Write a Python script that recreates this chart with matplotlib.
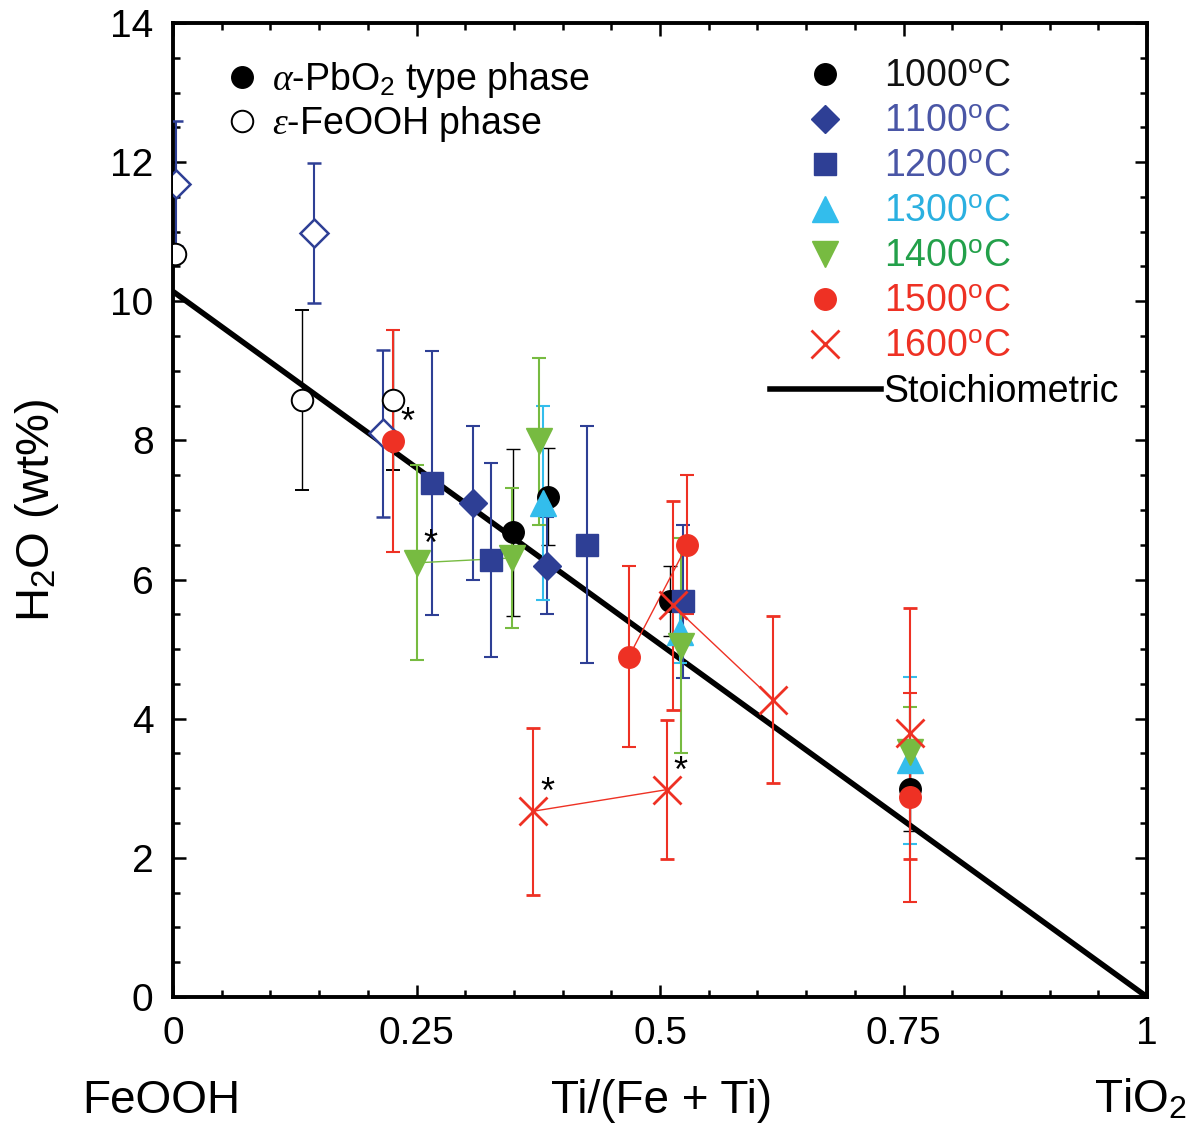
import matplotlib
matplotlib.use('Agg')
import matplotlib.pyplot as plt
from matplotlib.lines import Line2D
from matplotlib.ticker import MultipleLocator, FixedLocator

plt.rcParams['font.family'] = ['Liberation Sans', 'DejaVu Sans']
plt.rcParams['mathtext.fontset'] = 'custom'
plt.rcParams['mathtext.rm'] = 'Liberation Sans'
plt.rcParams['mathtext.it'] = 'Liberation Serif:italic'
plt.rcParams['mathtext.bf'] = 'Liberation Sans:bold'

# %% data: Ti/(Fe+Ti), H2O wt%, error
t1000_x = [0.349, 0.385, 0.51, 0.757]
t1000_y = [6.68, 7.19, 5.69, 2.99]
t1000_err = [1.2, 0.7, 0.5, 0.6]

t1100_x = [0.308, 0.384]
t1100_y = [7.1, 6.2]
t1100_err = [1.1, 0.7]

t1200_x = [0.266, 0.326, 0.425, 0.524]
t1200_y = [7.39, 6.28, 6.5, 5.69]
t1200_err = [1.9, 1.4, 1.7, 1.1]

t1300_x = [0.38, 0.521, 0.757]
t1300_y = [7.1, 5.25, 3.4]
t1300_err = [1.4, 0.45, 1.2]

t1400_x = [0.376, 0.25, 0.348, 0.522, 0.757]
t1400_y = [7.99, 6.24, 6.31, 5.05, 3.52]
t1400_err = [1.2, 1.4, 1.0, 1.55, 0.65]

t1500_x = [0.226, 0.468, 0.528, 0.757]
t1500_y = [7.99, 4.89, 6.5, 2.87]
t1500_err = [1.6, 1.3, 1.0, 1.5]

t1600_x = [0.37, 0.507, 0.513, 0.616, 0.757]
t1600_y = [2.67, 2.98, 5.63, 4.27, 3.79]
t1600_err = [1.2, 1.0, 1.5, 1.2, 1.8]

# epsilon-FeOOH phase (open symbols)
open_dia_x = [0.003, 0.145, 0.216]
open_dia_y = [11.69, 10.98, 8.1]
open_dia_err = [0.9, 1.0, 1.2]

open_circ_x = [0.002, 0.132, 0.226]
open_circ_y = [10.68, 8.58, 8.58]
open_circ_err = [0.0, 1.3, 1.0]

stoich_x = [0, 1]
stoich_y = [10.14, 0]

temp_labels = ['1000', '1100', '1200', '1300', '1400', '1500', '1600']

black = '#000000'
blue = '#2e3f95'
cyan = '#33bdec'
green = '#77bb41'
red = '#ee3124'

# %% figure
fig = plt.figure(figsize=(12.04, 11.36), dpi=100)
ax = fig.add_axes([0.1437, 0.1224, 0.809, 0.8574])

ax.plot(stoich_x, stoich_y, color='black', lw=4.0, zorder=2, solid_capstyle='butt')

eb = dict(ls='none', capsize=5, zorder=3)

ax.errorbar(open_circ_x, open_circ_y, yerr=open_circ_err, fmt='o', ms=15.5,
            mfc='white', mec=black, mew=1.4, ecolor=black, elinewidth=1.0,
            capthick=1.0, **eb)
ax.errorbar(open_dia_x, open_dia_y, yerr=open_dia_err, fmt='D', ms=14,
            mfc='white', mec=blue, mew=1.8, ecolor=blue, elinewidth=1.5,
            capthick=1.5, **eb)

ax.errorbar(t1000_x, t1000_y, yerr=t1000_err, fmt='o', ms=15.5, color=black,
            ecolor=black, elinewidth=1.0, capthick=1.0, **eb)
ax.errorbar(t1100_x, t1100_y, yerr=t1100_err, fmt='D', ms=14, color=blue,
            ecolor=blue, elinewidth=1.5, capthick=1.5, **eb)
ax.errorbar(t1200_x, t1200_y, yerr=t1200_err, fmt='s', ms=16, color=blue,
            ecolor=blue, elinewidth=1.5, capthick=1.5, **eb)
ax.errorbar(t1300_x, t1300_y, yerr=t1300_err, fmt='^', ms=19, color=cyan,
            ecolor=cyan, elinewidth=1.5, capthick=1.5, **eb)

ax.plot([t1400_x[1], t1400_x[2]], [t1400_y[1], t1400_y[2]], color=green, lw=1.0, zorder=3)
ax.errorbar(t1400_x, t1400_y, yerr=t1400_err, fmt='v', ms=19, color=green,
            ecolor=green, elinewidth=1.5, capthick=1.5, **eb)

ax.plot([t1500_x[1], t1500_x[2]], [t1500_y[1], t1500_y[2]], color=red, lw=1.0, zorder=3)
ax.errorbar(t1500_x, t1500_y, yerr=t1500_err, fmt='o', ms=15.5, color=red,
            ecolor=red, elinewidth=1.5, capthick=1.5, **eb)

ax.plot([t1600_x[0], t1600_x[1]], [t1600_y[0], t1600_y[1]], color=red, lw=1.0, zorder=3)
ax.plot([t1600_x[2], t1600_x[3]], [t1600_y[2], t1600_y[3]], color=red, lw=1.0, zorder=3)
ax.errorbar(t1600_x, t1600_y, yerr=t1600_err, fmt='x', ms=20, mew=2.0, color=red,
            ecolor=red, elinewidth=1.5, capthick=1.5, **eb)

# asterisks on the marked points
star_x = [t1500_x[0], t1400_x[1], t1600_x[0], t1600_x[1]]
star_y = [t1500_y[0], t1400_y[1], t1600_y[0], t1600_y[1]]
for sx, sy in zip(star_x, star_y):
    ax.annotate('*', (sx, sy), xytext=(5, 0), textcoords='offset points',
                fontsize=26, color='black', ha='left', va='bottom', zorder=6)

# %% axes styling
ax.set_xlim(0, 1)
ax.set_ylim(0, 14)
ax.xaxis.set_major_locator(FixedLocator([0, 0.25, 0.5, 0.75, 1]))
ax.xaxis.set_minor_locator(MultipleLocator(0.05))
ax.yaxis.set_major_locator(MultipleLocator(2))
ax.yaxis.set_minor_locator(MultipleLocator(0.5))
ax.set_xticklabels(['0', '0.25', '0.5', '0.75', '1'])
for s in ax.spines.values():
    s.set_linewidth(2.8)
ax.tick_params(which='both', direction='in', top=True, right=True, width=1.8)
ax.tick_params(which='major', length=9, pad=14)
ax.tick_params(which='minor', length=5)
for lab in ax.get_xticklabels() + ax.get_yticklabels():
    lab.set_family(['Liberation Sans Narrow', 'Liberation Sans'])
    lab.set_fontsize(28)

ax.set_ylabel('H$_2$O (wt%)', fontsize=34)
ax.yaxis.set_label_coords(-0.115, 0.5)
ax.set_xlabel('Ti/(Fe + Ti)', fontsize=33, va='baseline')
ax.xaxis.set_label_coords(0.502, -0.119)
ax.text(-0.012, -0.119, 'FeOOH', transform=ax.transAxes, fontsize=33,
        ha='center', va='baseline')
ax.text(0.993, -0.119, 'TiO$_2$', transform=ax.transAxes, fontsize=33,
        ha='center', va='baseline')

# %% legends
handles = [
    Line2D([], [], ls='none', marker='o', ms=15.5, color=black),
    Line2D([], [], ls='none', marker='D', ms=14, color=blue),
    Line2D([], [], ls='none', marker='s', ms=16, color=blue),
    Line2D([], [], ls='none', marker='^', ms=19, color=cyan),
    Line2D([], [], ls='none', marker='v', ms=19, color=green),
    Line2D([], [], ls='none', marker='o', ms=15.5, color=red),
    Line2D([], [], ls='none', marker='x', ms=20, mew=2.0, color=red),
    Line2D([], [], color='black', lw=4.0),
]
labels = [t + r'$^{\mathrm{o}}$C' for t in temp_labels] + ['Stoichiometric']
label_colors = ['#111111', '#4a56a6', '#4a56a6', '#2bb0e0', '#23a04a', red, red, 'black']
leg1 = ax.legend(handles, labels, loc='upper left', bbox_to_anchor=(0.613, 0.963),
                 frameon=False, fontsize=27, handlelength=2.95, handletextpad=0.08,
                 labelspacing=0.24, borderpad=0, borderaxespad=0,
                 labelcolor=label_colors)
ax.add_artist(leg1)

phase_handles = [
    Line2D([], [], ls='none', marker='o', ms=15.5, color='black'),
    Line2D([], [], ls='none', marker='o', ms=15.5, mfc='white', mec='black', mew=1.4),
]
phase_labels = [r'$\alpha$-PbO$_2$ type phase', r'$\varepsilon$-FeOOH phase']
ax.legend(phase_handles, phase_labels, loc='upper left', bbox_to_anchor=(0.052, 0.962),
          frameon=False, fontsize=27, handlelength=1.0, handletextpad=0.28,
          labelspacing=0.12, borderpad=0, borderaxespad=0)

plt.savefig('out.png', dpi=100, facecolor='white')
